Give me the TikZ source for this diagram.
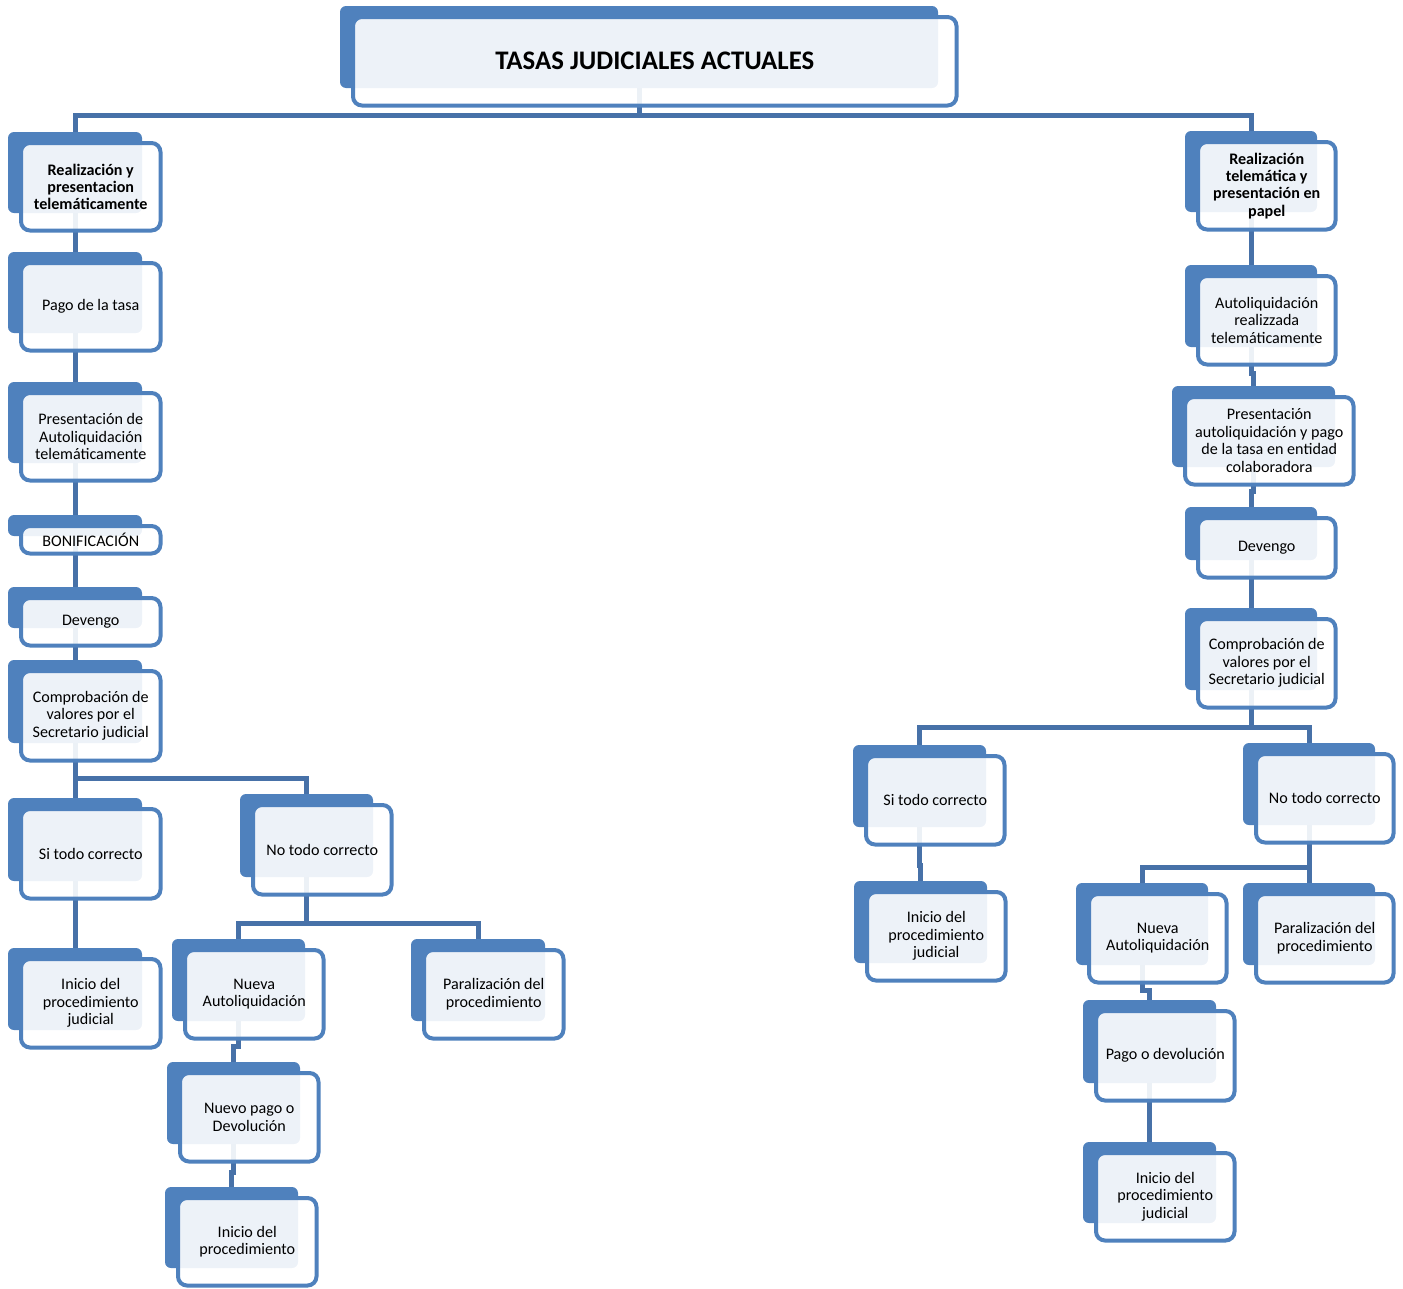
\documentclass[tikz,border=0pt]{standalone}
\usepackage{fontspec}
\setmainfont{Carlito}
\definecolor{boxblue}{HTML}{4F81BD}
\definecolor{connblue}{HTML}{4771A8}
\pgfdeclarelayer{bg}
\pgfsetlayers{bg,main}
\tikzset{
  bluebox/.style={fill=boxblue, draw=none, rounded corners=6pt, inner sep=0pt, outer sep=0pt},
  obox/.style={draw=boxblue, line width=4pt, fill=white, fill opacity=0.9, text opacity=1,
    rounded corners=9pt, inner sep=0pt, outer sep=0pt, align=center,
    font=\fontsize{16.1}{17.5}\selectfont},
  conn/.style={draw=connblue, line width=5pt},
  boldtext/.style={font=\fontsize{16.1}{17.3}\selectfont\bfseries},
  titletext/.style={font=\fontsize{26.8}{30}\selectfont\bfseries}
}
% #1 options, #2 name, #3..#6 blue rect (x1,y1,x2,y2), #7 text
\newcommand\tbox[7][]{%
  \pgfmathsetmacro\bcx{(#3+#5)/2}%
  \pgfmathsetmacro\bcy{(#4+#6)/2}%
  \pgfmathsetmacro\bw{#5-#3}%
  \pgfmathsetmacro\bh{#6-#4}%
  \pgfmathsetmacro\ocx{\bcx+15.75}%
  \pgfmathsetmacro\ocy{\bcy+14.25}%
  \pgfmathsetmacro\ow{\bw+5.5}%
  \pgfmathsetmacro\oh{\bh+6.5}%
  \begin{pgfonlayer}{bg}
    \node[bluebox, minimum width=\bw pt, minimum height=\bh pt] (#2-b) at (\bcx,\bcy) {};
  \end{pgfonlayer}
  \node[obox, minimum width=\ow pt, minimum height=\oh pt, #1] (#2) at (\ocx,\ocy) {#7};
}
\begin{document}
\begin{tikzpicture}[x=1pt, y=-1pt]
\useasboundingbox (0,0) rectangle (1403,1288);

\tbox[titletext]{title}{340}{6}{938}{88}{TASAS JUDICIALES ACTUALES}

% left column
\tbox[boldtext]{l1}{8}{132}{142}{213}{Realización y\\presentacion\\telemáticamente}
\tbox{l2}{8}{252}{142}{333}{Pago de la tasa}
\tbox{l3}{8}{382}{142}{463}{Presentación de\\Autoliquidación\\telemáticamente}
\tbox{l4}{8}{515}{142}{536}{BONIFICACIÓN}
\tbox{l5}{8}{587}{142}{628}{Devengo}
\tbox{l6}{8}{660}{142}{743}{Comprobación de\\valores por el\\Secretario judicial}
\tbox{l7}{8}{798}{142}{881}{Si todo correcto}
\tbox{l8}{240}{794}{373}{877}{No todo correcto}
\tbox{l9}{8}{948}{142}{1030}{Inicio del\\procedimiento\\judicial}
\tbox{l10}{172}{939}{305}{1021}{Nueva\\Autoliquidación}
\tbox{l11}{411}{939}{545}{1021}{Paralización del\\procedimiento}
\tbox{l12}{167}{1062}{300}{1144}{Nuevo pago o\\Devolución}
\tbox{l13}{165}{1187}{298}{1268}{Inicio del\\procedimiento}

% right column
\tbox[boldtext]{r1}{1185}{131}{1317}{212}{Realización\\telemática y\\presentación en\\papel}
\tbox{r2}{1185}{265}{1317}{347}{Autoliquidación\\realizzada\\telemáticamente}
\tbox{r3}{1172}{386}{1335}{467}{Presentación\\autoliquidación y pago\\de la tasa en entidad\\colaboradora}
\tbox{r4}{1185}{507}{1317}{560}{Devengo}
\tbox{r5}{1185}{608}{1317}{690}{Comprobación de\\valores por el\\Secretario judicial}
\tbox{r6}{853}{745}{986}{827}{Si todo correcto}
\tbox{r7}{1243}{743}{1375}{825}{No todo correcto}
\tbox{r8}{854}{881}{987}{963}{Inicio del\\procedimiento\\judicial}
\tbox{r9}{1076}{883}{1208}{965}{Nueva\\Autoliquidación}
\tbox{r10}{1243}{883}{1375}{965}{Paralización del\\procedimiento}
\tbox{r11}{1083}{1000}{1216}{1083}{Pago o devolución}
\tbox{r12}{1083}{1142}{1216}{1223}{Inicio del\\procedimiento\\judicial}

\begin{pgfonlayer}{bg}
  % title branches
  \draw[conn] (title-b.south) -- ++(0,27) coordinate (tj) -| (l1-b.north);
  \draw[conn] (tj) -| (r1-b.north);
  % left column
  \draw[conn] (l1-b.south) -- (l2-b.north);
  \draw[conn] (l2-b.south) -- (l3-b.north);
  \draw[conn] (l3-b.south) -- (l4-b.north);
  \draw[conn] (l4-b.south) -- (l5-b.north);
  \draw[conn] (l5-b.south) -- (l6-b.north);
  \draw[conn] (l6-b.south) -- ++(0,35) coordinate (lj1) -- (l7-b.north);
  \draw[conn] (lj1) -| (l8-b.north);
  \draw[conn] (l7-b.south) -- (l9-b.north);
  \draw[conn] (l8-b.south) -- ++(0,46) coordinate (lj2) -| (l10-b.north);
  \draw[conn] (lj2) -| (l11-b.north);
  \draw[conn] (l10-b.south) -- ++(0,25) -| (l12-b.north);
  \draw[conn] (l12-b.south) -- ++(0,28) -| (l13-b.north);
  % right column
  \draw[conn] (r1-b.south) -- (r2-b.north);
  \draw[conn] (r2-b.south) -- ++(0,26) -| (r3-b.north);
  \draw[conn] (r3-b.south) -- ++(0,24) -| (r4-b.north);
  \draw[conn] (r4-b.south) -- (r5-b.north);
  \draw[conn] (r5-b.south) -- ++(0,37) coordinate (rj1) -| (r6-b.north);
  \draw[conn] (rj1) -| (r7-b.north);
  \draw[conn] (r6-b.south) -- ++(0,38) -| (r8-b.north);
  \draw[conn] (r7-b.south) -- ++(0,42) coordinate (rj2) -| (r9-b.north);
  \draw[conn] (rj2) -- (r10-b.north);
  \draw[conn] (r9-b.south) -- ++(0,25) -| (r11-b.north);
  \draw[conn] (r11-b.south) -- (r12-b.north);
\end{pgfonlayer}
\end{tikzpicture}
\end{document}
